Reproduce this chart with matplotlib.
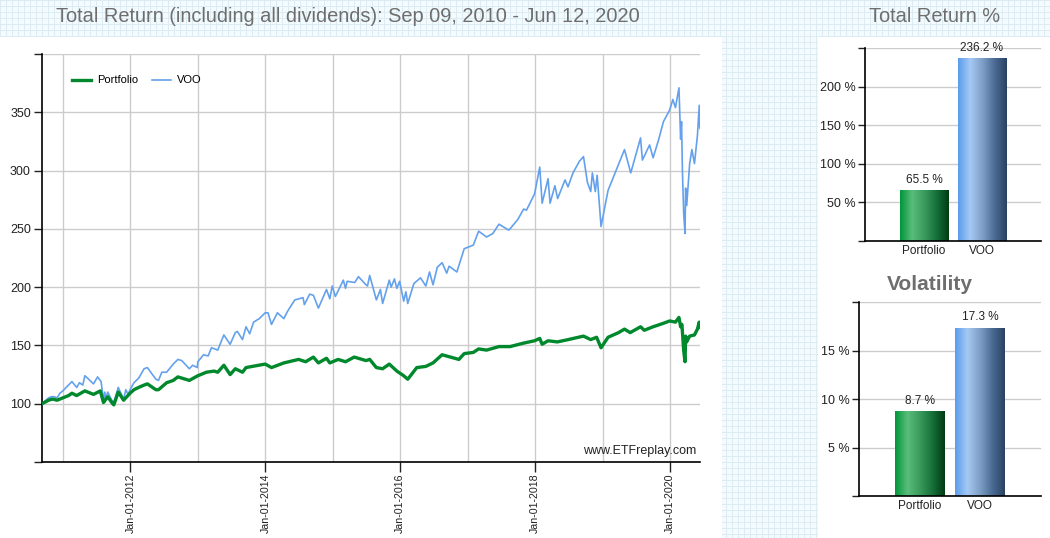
import numpy as np
import pandas as pd
import matplotlib
matplotlib.use('Agg')
import matplotlib.pyplot as plt
import matplotlib.dates as mdates
from matplotlib.patches import Rectangle
from matplotlib.colors import LinearSegmentedColormap

plt.rcParams['font.family'] = ['Liberation Sans', 'DejaVu Sans']

# ---------------- data ----------------
title_main = 'Total Return (including all dividends): Sep 09, 2010 - Jun 12, 2020'
series_names = ['Portfolio', 'VOO']

voo_dates = [
    '2010-09-09', '2010-09-30', '2010-10-15', '2010-10-29', '2010-11-15', '2010-11-30', '2010-12-15',
    '2010-12-31', '2011-01-18', '2011-02-18', '2011-03-16', '2011-03-31', '2011-04-18', '2011-04-29',
    '2011-05-20', '2011-06-15', '2011-06-30', '2011-07-07', '2011-07-26', '2011-08-08', '2011-08-15',
    '2011-08-19', '2011-08-31', '2011-09-22', '2011-10-03', '2011-10-27', '2011-11-25', '2011-12-07',
    '2011-12-19', '2011-12-30', '2012-01-20', '2012-02-15', '2012-03-15', '2012-04-02', '2012-04-20',
    '2012-05-18', '2012-06-01', '2012-06-19', '2012-07-15', '2012-08-20', '2012-09-14', '2012-10-05',
    '2012-11-15', '2012-12-03', '2012-12-28', '2012-12-31', '2013-01-31', '2013-02-25', '2013-03-15',
    '2013-04-18', '2013-05-21', '2013-06-24', '2013-07-22', '2013-08-02', '2013-08-30', '2013-09-18',
    '2013-10-08', '2013-10-29', '2013-11-29', '2013-12-31', '2014-01-15', '2014-02-03', '2014-03-07',
    '2014-04-11', '2014-04-30', '2014-06-09', '2014-07-24', '2014-07-31', '2014-08-29', '2014-09-18',
    '2014-10-15', '2014-11-28', '2014-12-16', '2014-12-29', '2015-01-15', '2015-02-27', '2015-03-11',
    '2015-03-20', '2015-04-30', '2015-05-20', '2015-06-30', '2015-07-08', '2015-07-20', '2015-08-25',
    '2015-09-16', '2015-09-28', '2015-11-03', '2015-11-13', '2015-12-01', '2015-12-14', '2015-12-29',
    '2016-01-20', '2016-02-01', '2016-02-11', '2016-03-15', '2016-04-20', '2016-05-19', '2016-06-08',
    '2016-06-27', '2016-07-20', '2016-08-15', '2016-09-09', '2016-09-22', '2016-11-03', '2016-12-13',
    '2017-01-31', '2017-03-01', '2017-04-13', '2017-05-17', '2017-06-19', '2017-08-10', '2017-08-18',
    '2017-09-29', '2017-10-31', '2017-11-15', '2017-12-29', '2018-01-26', '2018-02-08', '2018-03-12',
    '2018-03-23', '2018-04-18', '2018-05-03', '2018-06-12', '2018-06-28', '2018-07-25', '2018-08-29',
    '2018-09-20', '2018-10-11', '2018-10-29', '2018-11-07', '2018-11-23', '2018-12-03', '2018-12-24',
    '2019-01-31', '2019-02-28', '2019-04-30', '2019-06-03', '2019-07-26', '2019-08-05', '2019-09-13',
    '2019-10-02', '2019-10-31', '2019-11-27', '2019-12-31', '2020-01-17', '2020-01-31', '2020-02-19',
    '2020-02-28', '2020-03-04', '2020-03-09', '2020-03-16', '2020-03-23', '2020-03-26', '2020-04-01',
    '2020-04-17', '2020-04-29', '2020-05-13', '2020-05-29', '2020-06-08', '2020-06-11', '2020-06-12']
voo_values = [
    100, 103, 105, 106, 106, 105, 109,
    111, 114, 119, 114, 118, 116, 124,
    121, 117, 121, 123, 119, 103, 110,
    104, 110, 103, 101, 114, 104, 112,
    108, 112, 118, 122, 130, 131, 127,
    121, 120, 127, 127, 134, 138, 137,
    130, 133, 131, 136, 142, 141, 148,
    146, 159, 151, 161, 162, 155, 166,
    160, 170, 173, 178, 178, 168, 178,
    173, 179, 189, 191, 185, 194, 193,
    182, 198, 190, 201, 192, 206, 199,
    205, 204, 209, 202, 201, 210, 189,
    198, 186, 206, 200, 207, 199, 205,
    188, 196, 186, 203, 208, 201, 213,
    202, 217, 221, 212, 218, 213, 233,
    236, 248, 243, 246, 254, 249, 250,
    258, 267, 266, 280, 303, 272, 293,
    272, 287, 276, 292, 286, 298, 308,
    312, 290, 282, 298, 282, 296, 252,
    283, 294, 318, 298, 328, 309, 322,
    311, 326, 342, 352, 361, 354, 371,
    327, 342, 298, 262, 246, 285, 270,
    306, 318, 306, 330, 356, 337, 336.2]

port_dates = [
    '2010-09-09', '2010-10-15', '2010-11-05', '2010-11-30', '2010-12-31', '2011-01-31', '2011-02-18',
    '2011-03-16', '2011-04-29', '2011-06-15', '2011-07-22', '2011-08-08', '2011-08-31', '2011-09-22',
    '2011-10-03', '2011-10-27', '2011-11-25', '2011-12-30', '2012-01-20', '2012-02-15', '2012-03-15',
    '2012-04-02', '2012-05-18', '2012-06-01', '2012-07-15', '2012-08-20', '2012-09-14', '2012-11-15',
    '2012-12-31', '2013-01-31', '2013-02-15', '2013-03-29', '2013-04-18', '2013-05-21', '2013-06-24',
    '2013-07-22', '2013-08-30', '2013-09-18', '2013-10-22', '2013-12-31', '2014-02-03', '2014-04-11',
    '2014-06-30', '2014-08-07', '2014-09-18', '2014-10-15', '2014-11-28', '2014-12-16', '2015-01-30',
    '2015-03-11', '2015-04-27', '2015-06-30', '2015-07-20', '2015-08-25', '2015-09-28', '2015-11-03',
    '2015-12-14', '2016-01-20', '2016-02-11', '2016-03-31', '2016-05-19', '2016-06-27', '2016-08-15',
    '2016-11-14', '2016-12-13', '2017-01-31', '2017-03-01', '2017-04-13', '2017-06-19', '2017-08-18',
    '2017-10-31', '2017-12-29', '2018-01-26', '2018-02-08', '2018-03-12', '2018-05-01', '2018-06-29',
    '2018-09-20', '2018-10-29', '2018-11-30', '2018-12-24', '2019-01-31', '2019-03-29', '2019-04-30',
    '2019-05-31', '2019-07-26', '2019-08-15', '2019-10-02', '2019-11-27', '2019-12-31', '2020-01-31',
    '2020-02-19', '2020-02-28', '2020-03-06', '2020-03-16', '2020-03-23', '2020-03-26', '2020-04-01',
    '2020-04-17', '2020-05-13', '2020-05-29', '2020-06-08', '2020-06-12']
port_values = [
    100, 103, 104, 103, 105, 107, 109,
    107, 111, 108, 111, 101, 106, 101,
    99, 110, 103, 109, 112, 114, 116,
    117, 112, 112, 118, 120, 123, 120,
    124, 126, 127, 128, 127, 133, 125,
    130, 127, 131, 132, 134, 131, 135,
    138, 136, 140, 135, 139, 135, 138,
    136, 140, 137, 138, 131, 130, 134,
    128, 124, 121, 131, 132, 135, 142,
    138, 143, 144, 147, 146, 149, 149,
    152, 154, 156, 151, 154, 153, 155,
    158, 155, 157, 148, 157, 161, 164,
    161, 166, 163, 166, 169, 171, 170,
    174, 166, 168, 145, 136, 158, 153,
    158, 159, 164, 170, 165.5]

bar_categories = ['Portfolio', 'VOO']
total_return_pct = [65.5, 236.2]
volatility_pct = [8.7, 17.3]

# ---------------- figure ----------------
W, H = 1050, 538
fig = plt.figure(figsize=(W / 100, H / 100), dpi=100)

# graph-paper background
bg = fig.add_axes([0, 0, 1, 1])
img = np.ones((H, W, 3))
img[:, :] = (0.960, 0.988, 0.998)
line_col = (0.870, 0.925, 0.950)
img[::6, :] = line_col
img[:, ::6] = line_col
bg.imshow(img, extent=[0, W, H, 0], interpolation='nearest', aspect='auto')
bg.add_patch(Rectangle((0, 37), 722, H - 37, color='white', lw=0))
bg.add_patch(Rectangle((818, 37), W - 818, H - 37, color='white', lw=0))
bg.set_xlim(0, W)
bg.set_ylim(H, 0)
bg.axis('off')

title_col = '#6e6e6e'
fig.text(348 / W, 1 - 16 / H, title_main, ha='center', va='center', fontsize=14.4, color=title_col)
fig.text(935 / W, 1 - 16 / H, 'Total Return %', ha='center', va='center', fontsize=14.4, color=title_col)
fig.text(930 / W, 1 - 285 / H, 'Volatility', ha='center', va='center', fontsize=15,
         color=title_col, fontweight='bold')


def px_axes(left, top, right, bottom):
    return fig.add_axes([left / W, 1 - bottom / H, (right - left) / W, (bottom - top) / H])


# ---------------- main line chart ----------------
ax = px_axes(42, 54, 700, 462)
voo_x = pd.to_datetime(voo_dates)
port_x = pd.to_datetime(port_dates)
l_voo, = ax.plot(voo_x, voo_values, color='#64a1ed', lw=1.2, label=series_names[1], zorder=3)
l_port, = ax.plot(port_x, port_values, color='#00892c', lw=2.4, label=series_names[0], zorder=4)

ax.set_xlim(pd.Timestamp('2010-09-09'), pd.Timestamp('2020-06-12'))
ax.set_ylim(50, 400)
yt = list(range(50, 401, 50))
ax.set_yticks(yt)
ax.set_yticklabels(['' if (v == 50 or v == 400) else str(v) for v in yt])

ax.xaxis.set_major_locator(mdates.YearLocator(2))
ax.xaxis.set_minor_locator(mdates.YearLocator(1))
ax.xaxis.set_major_formatter(mdates.DateFormatter('%b-%d-%Y'))
ax.tick_params(axis='x', which='major', length=7, width=1, labelrotation=90, labelsize=7.7,
               colors='#222222', pad=1.5)
ax.tick_params(axis='x', which='minor', length=0)
ax.tick_params(axis='y', length=6, width=1, labelsize=9, colors='#222222', pad=2)
ax.grid(True, which='both', axis='x', color='#cccccc', lw=1)
ax.grid(True, which='major', axis='y', color='#cccccc', lw=1)
ax.set_axisbelow(True)
for s in ['top', 'right']:
    ax.spines[s].set_visible(False)
for s in ['left', 'bottom']:
    ax.spines[s].set_color('black')
    ax.spines[s].set_linewidth(1.2)
ax.set_facecolor('white')

leg = ax.legend([l_port, l_voo], series_names, loc='upper left', bbox_to_anchor=(0.03, 0.972),
                ncol=2, frameon=False, fontsize=8, handlelength=1.7, columnspacing=1.3,
                handletextpad=0.55)
ax.text(0.994, 0.012, 'www.ETFreplay.com', transform=ax.transAxes, ha='right', va='bottom',
        fontsize=9, color='#222222')

# ---------------- bar panels ----------------
green_grad = ['#00963a', '#5abd7b', '#3a9a5c', '#16703a', '#003b12']
blue_grad = ['#5a9cec', '#a5c9f4', '#7e9fc6', '#4b6b94', '#2a4262']


def bar_panel(axb, values, ymax, step):
    x = np.arange(len(bar_categories))
    width = 0.83
    bars = axb.bar(x, values, width=width, color='none', edgecolor='none', zorder=2)
    for b, cols in zip(bars, [green_grad, blue_grad]):
        cmap = LinearSegmentedColormap.from_list('grad', cols)
        axb.imshow(np.linspace(0, 1, 256)[None, :], cmap=cmap, aspect='auto', zorder=2,
                   extent=[b.get_x(), b.get_x() + b.get_width(), 0, b.get_height()],
                   interpolation='bilinear')
    for xi, v in zip(x, values):
        axb.annotate(f'{v} %', (xi, v), xytext=(0, 3.5), textcoords='offset points',
                     ha='center', va='bottom', fontsize=8.5, color='#222222')
    axb.set_xlim(-1.02, 2.02)
    axb.set_ylim(0, ymax)
    ticks = np.arange(0, ymax + 0.1, step)
    axb.set_yticks(ticks)
    axb.set_yticklabels(['' if (t == 0 or t == ymax) else f'{int(t)} %' for t in ticks])
    axb.set_xticks(x)
    axb.set_xticklabels(bar_categories)
    axb.tick_params(axis='x', length=0, labelsize=8.5, colors='#222222', pad=3)
    axb.tick_params(axis='y', length=5, width=1, labelsize=9, colors='#222222', pad=2)
    axb.grid(True, axis='y', color='#cccccc', lw=1)
    axb.set_axisbelow(True)
    for s in ['top', 'right']:
        axb.spines[s].set_visible(False)
    for s in ['left', 'bottom']:
        axb.spines[s].set_color('black')
        axb.spines[s].set_linewidth(1.2)
    axb.set_facecolor('white')


ax_tr = px_axes(865, 48, 1041, 241)
bar_panel(ax_tr, total_return_pct, 250, 50)

ax_vol = px_axes(859, 302, 1041, 496)
bar_panel(ax_vol, volatility_pct, 20, 5)

fig.savefig('out.png', dpi=100)
